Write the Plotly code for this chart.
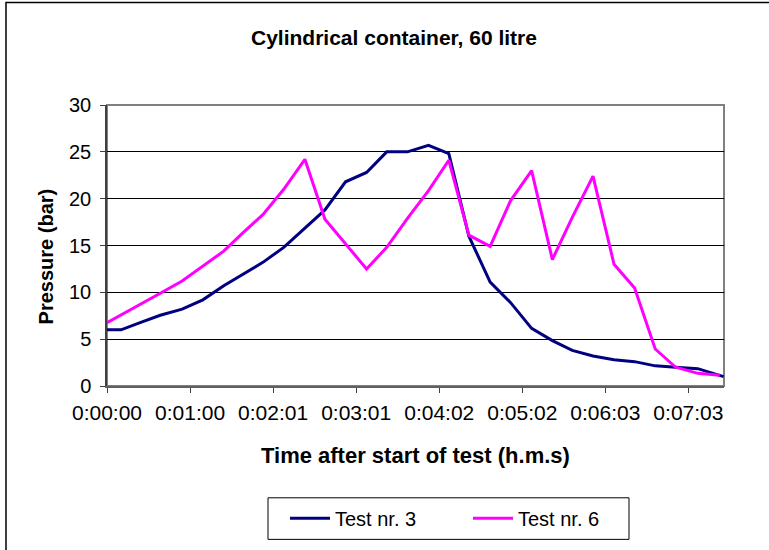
import plotly.graph_objects as go

# Time after start of test, seconds
time_test3 = [0, 10.2, 24.6, 38.8, 54.7, 69.8, 85.0, 99.3, 113.5, 128.7, 144.1, 158.7,
              173.7, 189.0, 203.7, 218.8, 234.1, 248.9, 263.5, 279.0, 293.9, 309.2,
              324.3, 338.8, 353.9, 369.2, 384.2, 399.2, 414.1, 430.2, 449.0]
pressure_test3 = [6.0, 6.0, 6.8, 7.55, 8.2, 9.2, 10.7, 12.0, 13.2, 14.8, 16.9, 18.8,
                  21.8, 22.8, 25.0, 25.0, 25.7, 24.8, 16.0, 11.1, 8.9, 6.15,
                  4.85, 3.8, 3.2, 2.8, 2.6, 2.15, 2.0, 1.85, 1.0]

time_test6 = [0, 10.2, 24.6, 38.8, 54.7, 69.8, 85.0, 99.3, 113.5, 128.7, 144.1, 158.7,
              173.7, 189.0, 203.7, 218.8, 234.1, 248.9, 263.5, 279.0, 293.9, 309.2,
              324.3, 338.8, 353.9, 369.2, 384.2, 399.2, 414.1, 430.2, 446.2]
pressure_test6 = [6.75, 7.6, 8.75, 9.9, 11.2, 12.8, 14.4, 16.4, 18.3, 21.0, 24.2, 17.8,
                  15.2, 12.5, 14.8, 17.9, 20.85, 24.1, 16.1, 14.9, 19.8, 23.0,
                  13.5, 18.0, 22.4, 13.0, 10.45, 3.95, 2.0, 1.35, 1.15]

# x-axis ticks: every 0.0007 day (60.48 s)
tick_seconds = [0, 60.48, 120.96, 181.44, 241.92, 302.4, 362.88, 423.36]
tick_labels = ["0:00:00", "0:01:00", "0:02:01", "0:03:01", "0:04:02", "0:05:02", "0:06:03", "0:07:03"]
x_max = 449.28

series_names = ["Test nr. 3", "Test nr. 6"]
series_colors = ["#000080", "#FF00FF"]

FONT = "Arial, 'Liberation Sans', sans-serif"

fig = go.Figure()
fig.add_trace(go.Scatter(x=time_test3, y=pressure_test3, mode="lines", name=series_names[0],
                         line=dict(color=series_colors[0], width=3)))
fig.add_trace(go.Scatter(x=time_test6, y=pressure_test6, mode="lines", name=series_names[1],
                         line=dict(color=series_colors[1], width=3)))

px2x = lambda px: (px - 107) / 617
py2y = lambda py: (389 - py) / 284

fig.update_layout(
    width=769, height=550,
    margin=dict(l=107, r=769 - 724, t=105, b=550 - 389),
    paper_bgcolor="white", plot_bgcolor="white",
    font=dict(family=FONT, size=20, color="black"),
    title=dict(text="<b>Cylindrical container, 60 litre</b>", x=394 / 769, xanchor="center",
               y=1 - 38 / 550, yanchor="middle", font=dict(size=21, family=FONT)),
    showlegend=True,
    legend=dict(orientation="h", x=px2x(285), xanchor="left",
                y=py2y(503), yanchor="top",
                borderwidth=0, bgcolor="rgba(0,0,0,0)",
                font=dict(size=20, family=FONT), entrywidth=128, itemwidth=40),
)

fig.update_xaxes(range=[0, x_max], tickmode="array", tickvals=tick_seconds, ticktext=tick_labels,
                 ticks="outside", ticklen=5, tickcolor="#404040", showgrid=False, zeroline=False,
                 showline=True, linecolor="#606060", linewidth=1.5, ticklabelstandoff=2,
                 tickfont=dict(size=21, family=FONT))
fig.update_yaxes(range=[0, 30], dtick=5, ticks="outside", ticklen=5, tickcolor="#404040",
                 showgrid=True, gridcolor="black", gridwidth=1, zeroline=False,
                 showline=True, linecolor="#404040", linewidth=1.5, ticklabelstandoff=5,
                 tickfont=dict(size=20, family=FONT))

# plot area border (grey)
fig.add_shape(type="rect", xref="paper", yref="paper", x0=0, x1=1, y0=0, y1=1,
              line=dict(color="#808080", width=2), layer="below")

# legend frame
fig.add_shape(type="rect", xref="paper", yref="paper",
              x0=px2x(268), x1=px2x(629), y0=py2y(544), y1=py2y(502),
              line=dict(color="black", width=1), fillcolor="white", layer="below")

# chart area outer border (left and top visible)
fig.add_shape(type="path", xref="paper", yref="paper",
              path=f"M {px2x(6)} {py2y(560)} L {px2x(6)} {py2y(1.5)} L {px2x(780)} {py2y(1.5)}",
              line=dict(color="black", width=1.5))

# axis titles as annotations
fig.add_annotation(text="<b>Time after start of test (h.m.s)</b>", xref="paper", yref="paper",
                   x=px2x(415), y=py2y(459), showarrow=False, font=dict(size=22, family=FONT),
                   xanchor="center", yanchor="middle")
fig.add_annotation(text="<b>Pressure (bar)</b>", xref="paper", yref="paper",
                   x=px2x(46), y=py2y(258), showarrow=False, textangle=-90,
                   font=dict(size=20, family=FONT), xanchor="center", yanchor="middle")

fig.write_html("out.html", config={"displayModeBar": False},
               post_script="document.body.style.margin='0px';")
